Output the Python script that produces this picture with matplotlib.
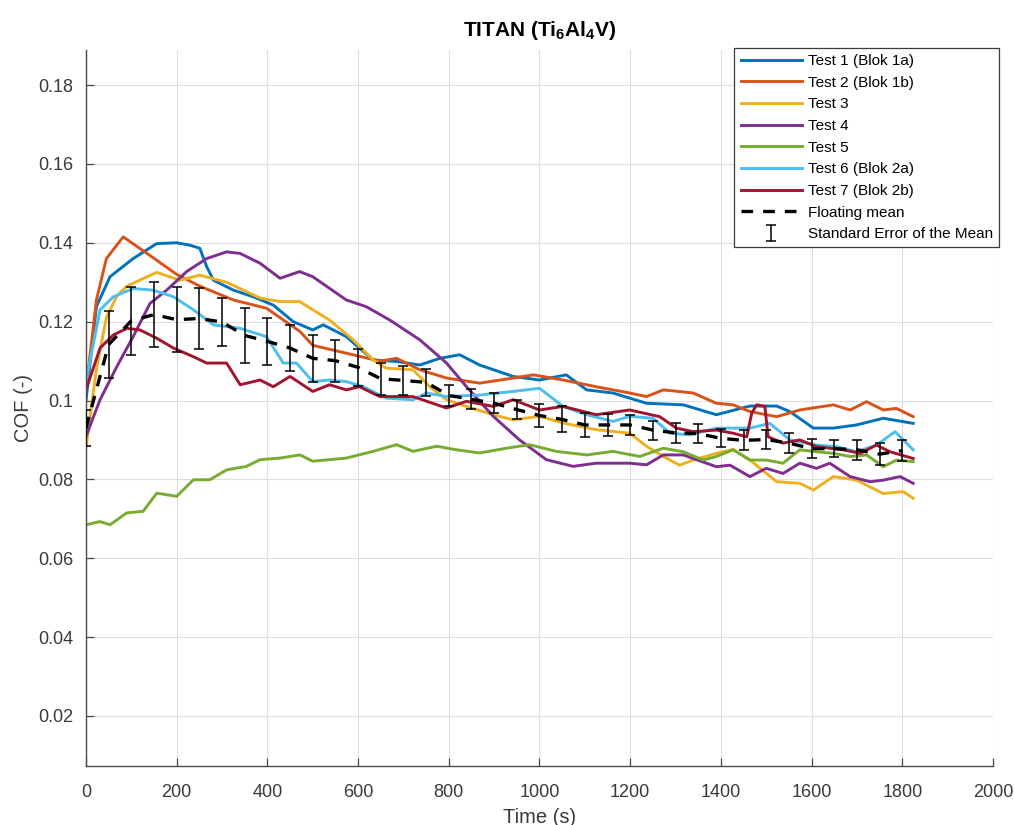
import matplotlib
matplotlib.use('Agg')
import matplotlib.pyplot as plt

plt.rcParams['font.family'] = ['Liberation Sans', 'DejaVu Sans']
plt.rcParams['mathtext.default'] = 'regular'

# COF traces per test (time in s, COF in -)
t1 = [0, 23, 53, 104, 156, 200, 229, 251, 266, 281, 325, 369, 413, 457, 500, 523, 574, 633, 685, 736,
      780, 824, 868, 942, 1000, 1059, 1104, 1162, 1236, 1317, 1390, 1464, 1523, 1552, 1604, 1648, 1699,
      1758, 1824]
cof1 = [0.100, 0.1238, 0.1314, 0.136, 0.1398, 0.140, 0.1394, 0.1386, 0.134, 0.1305, 0.128, 0.1263,
        0.1242, 0.120, 0.1179, 0.1192, 0.1162, 0.1103, 0.1099, 0.109, 0.1107, 0.1116, 0.109, 0.1061,
        0.1052, 0.1065, 0.1027, 0.1019, 0.0993, 0.0989, 0.0964, 0.0986, 0.0986, 0.0972, 0.093, 0.093,
        0.0938, 0.0955, 0.0942]

t2 = [0, 23, 45, 82, 126, 200, 251, 325, 398, 472, 500, 574, 648, 685, 736, 795, 868, 942, 986, 1052,
      1125, 1199, 1236, 1273, 1339, 1390, 1427, 1464, 1523, 1574, 1648, 1685, 1721, 1758, 1787, 1824]
cof2 = [0.1027, 0.1255, 0.136, 0.1415, 0.138, 0.132, 0.129, 0.1255, 0.1234, 0.1175, 0.114, 0.112,
        0.110, 0.1107, 0.1078, 0.1057, 0.1044, 0.1057, 0.1065, 0.1052, 0.1035, 0.1019, 0.101, 0.1027,
        0.1019, 0.0993, 0.0989, 0.0972, 0.0959, 0.0976, 0.0989, 0.0976, 0.0997, 0.0976, 0.098, 0.0959]

t3 = [0, 23, 45, 68, 90, 156, 207, 251, 310, 384, 427, 471, 537, 589, 633, 662, 721, 758, 795, 839,
      898, 942, 1000, 1052, 1125, 1199, 1236, 1273, 1309, 1339, 1390, 1427, 1464, 1523, 1574, 1604,
      1648, 1699, 1758, 1802, 1824]
cof3 = [0.088, 0.108, 0.121, 0.1265, 0.129, 0.1325, 0.1305, 0.1318, 0.130, 0.126, 0.1251, 0.1251,
        0.1204, 0.1154, 0.1103, 0.1082, 0.1078, 0.1035, 0.1002, 0.0985, 0.0964, 0.0951, 0.096, 0.0943,
        0.0926, 0.0917, 0.0884, 0.0858, 0.0836, 0.0849, 0.0866, 0.0876, 0.0849, 0.0794, 0.079, 0.0773,
        0.0807, 0.0798, 0.0764, 0.0769, 0.0752]

t4 = [0, 31, 68, 104, 141, 178, 222, 266, 310, 340, 384, 428, 471, 500, 574, 618, 670, 736, 795, 839,
      898, 956, 1015, 1074, 1125, 1199, 1236, 1273, 1317, 1390, 1420, 1464, 1500, 1537, 1574, 1611,
      1640, 1685, 1729, 1758, 1795, 1824]
cof4 = [0.0909, 0.1002, 0.1086, 0.1162, 0.1246, 0.128, 0.1327, 0.136, 0.1377, 0.1373, 0.1348, 0.131,
        0.1327, 0.1314, 0.1255, 0.1238, 0.1204, 0.1154, 0.1095, 0.1035, 0.096, 0.090, 0.085, 0.0833,
        0.0841, 0.0841, 0.0837, 0.0862, 0.0862, 0.0832, 0.0836, 0.0807, 0.0828, 0.0815, 0.0841, 0.0828,
        0.0841, 0.0807, 0.0794, 0.0798, 0.0807, 0.079]

t5 = [0, 31, 53, 90, 126, 156, 200, 237, 273, 310, 354, 384, 428, 472, 500, 574, 633, 685, 721, 773,
      817, 868, 927, 978, 1037, 1104, 1162, 1221, 1273, 1317, 1361, 1390, 1427, 1464, 1500, 1537, 1574,
      1611, 1648, 1685, 1721, 1758, 1787, 1824]
cof5 = [0.0685, 0.0693, 0.0685, 0.0715, 0.0719, 0.0765, 0.0757, 0.0799, 0.0799, 0.0824, 0.0833, 0.085,
        0.0854, 0.0862, 0.0846, 0.0854, 0.0871, 0.0888, 0.0871, 0.0884, 0.0875, 0.0867, 0.0879, 0.0888,
        0.0871, 0.0862, 0.0871, 0.0858, 0.0879, 0.087, 0.0849, 0.0858, 0.0875, 0.0849, 0.0849, 0.0841,
        0.0875, 0.087, 0.0866, 0.0858, 0.0862, 0.0832, 0.0849, 0.0845]

t6 = [0, 31, 60, 104, 148, 193, 237, 281, 340, 398, 435, 464, 500, 537, 574, 611, 662, 721, 751, 795,
      868, 942, 1000, 1052, 1104, 1162, 1199, 1250, 1288, 1332, 1390, 1464, 1508, 1552, 1611, 1655,
      1699, 1743, 1784, 1824]
cof6 = [0.1048, 0.123, 0.1263, 0.1284, 0.128, 0.1263, 0.123, 0.1192, 0.1183, 0.1162, 0.1095, 0.1095,
        0.1048, 0.1052, 0.1048, 0.1035, 0.1006, 0.1002, 0.1019, 0.101, 0.1014, 0.1023, 0.1031, 0.0985,
        0.0964, 0.0947, 0.096, 0.0955, 0.0917, 0.0913, 0.093, 0.093, 0.0942, 0.090, 0.0887, 0.0883,
        0.087, 0.0887, 0.0921, 0.0875]

t7 = [0, 31, 60, 90, 119, 156, 193, 237, 266, 310, 340, 384, 413, 450, 500, 537, 574, 603, 648, 721,
      795, 839, 898, 942, 1000, 1052, 1125, 1199, 1265, 1302, 1339, 1390, 1427, 1457, 1468, 1479, 1497,
      1504, 1537, 1574, 1611, 1670, 1707, 1743, 1773, 1824]
cof7 = [0.1027, 0.1133, 0.1166, 0.1183, 0.1179, 0.1158, 0.1133, 0.1111, 0.1095, 0.1095, 0.104, 0.1052,
        0.1035, 0.1061, 0.1023, 0.104, 0.1027, 0.1035, 0.101, 0.101, 0.0981, 0.0998, 0.0985, 0.1002,
        0.0976, 0.0985, 0.0964, 0.0976, 0.0959, 0.093, 0.0921, 0.0925, 0.0917, 0.0908, 0.0968, 0.0989,
        0.0985, 0.0908, 0.0892, 0.090, 0.0883, 0.0875, 0.0866, 0.0887, 0.087, 0.0853]

# floating mean and standard error, every 50 s
t_mean = [0, 50, 100, 150, 200, 250, 300, 350, 400, 450, 500, 550, 600, 650, 700, 750, 800, 850, 900,
          950, 1000, 1050, 1100, 1150, 1200, 1250, 1300, 1350, 1400, 1450, 1500, 1550, 1600, 1650, 1700,
          1750, 1800]
cof_mean = [0.093, 0.1142, 0.1202, 0.1218, 0.1205, 0.1208, 0.1199, 0.1165, 0.115, 0.1133, 0.1107,
            0.1101, 0.1084, 0.1055, 0.1051, 0.1046, 0.1013, 0.1003, 0.0993, 0.0977, 0.0962, 0.0952,
            0.0938, 0.0938, 0.0938, 0.0925, 0.0918, 0.0916, 0.0904, 0.0899, 0.0901, 0.0892, 0.0878,
            0.0878, 0.0875, 0.0864, 0.0873]
cof_sem = [0.0045, 0.0085, 0.0087, 0.0083, 0.0083, 0.0078, 0.006, 0.0069, 0.006, 0.0058, 0.0059,
           0.0053, 0.0046, 0.0041, 0.0037, 0.0034, 0.0027, 0.0025, 0.0025, 0.0025, 0.003, 0.0033, 0.003,
           0.0028, 0.0025, 0.0024, 0.0026, 0.0025, 0.0023, 0.0025, 0.0025, 0.0026, 0.0025, 0.0022,
           0.0025, 0.0028, 0.0027]

labels = ['Test 1 (Blok 1a)', 'Test 2 (Blok 1b)', 'Test 3', 'Test 4', 'Test 5',
          'Test 6 (Blok 2a)', 'Test 7 (Blok 2b)']
colors = ['#0072BD', '#D95319', '#EDB120', '#7E2F8E', '#77AC30', '#4DBEEE', '#A2142F']
series = [(t1, cof1), (t2, cof2), (t3, cof3), (t4, cof4), (t5, cof5), (t6, cof6), (t7, cof7)]

y_ticks = [0.02, 0.04, 0.06, 0.08, 0.1, 0.12, 0.14, 0.16, 0.18]
y_ticklabels = ['0.02', '0.04', '0.06', '0.08', '0.1', '0.12', '0.14', '0.16', '0.18']
x_ticks = list(range(0, 2001, 200))

fig = plt.figure(figsize=(10.14, 8.25), dpi=100, facecolor='white')
ax = fig.add_axes([0.0848, 0.0715, 0.8945, 0.8679])

for (t, c), lab, col in zip(series, labels, colors):
    ax.plot(t, c, color=col, lw=2.1, label=lab, zorder=2)

ax.plot(t_mean, cof_mean, color='black', lw=2.4, dashes=(3.5, 3.0), label='Floating mean', zorder=3)
ax.errorbar(t_mean, cof_mean, yerr=cof_sem, fmt='none', ecolor='black', elinewidth=1.1,
            capsize=3.3, capthick=1.1, label='Standard Error of the Mean', zorder=4)

ax.set_xlim(0, 2000)
ax.set_ylim(0.0073, 0.1889)
ax.set_xticks(x_ticks)
ax.set_yticks(y_ticks)
ax.set_yticklabels(y_ticklabels)

ax.grid(True, color='#dedede', lw=0.8)
ax.set_axisbelow(True)
ax.spines['top'].set_visible(False)
ax.spines['right'].set_visible(False)
for s in ('left', 'bottom'):
    ax.spines[s].set_color('#4a4a4a')
    ax.spines[s].set_linewidth(1.0)
ax.tick_params(direction='in', length=6, width=0.9, color='#4a4a4a',
               labelsize=13, labelcolor='#3a3a3a', pad=9)
ax.tick_params(axis='x', pad=13)

ax.set_xlabel('Time (s)', fontsize=14.5, color='#3a3a3a', labelpad=5)
ax.set_ylabel('COF (-)', fontsize=14.5, color='#3a3a3a', labelpad=4)
ax.set_title('TITAN (Ti$_6$Al$_4$V)', fontsize=15, fontweight='bold', pad=10)

leg = ax.legend(loc='upper right', bbox_to_anchor=(999 / 1014, 1 - 48 / 825),
                bbox_transform=fig.transFigure, fontsize=11, frameon=True, fancybox=False,
                framealpha=1, edgecolor='#3a3a3a', handlelength=4.0, handletextpad=0.4,
                labelspacing=0.5, borderpad=0.4, borderaxespad=0)
leg.get_frame().set_linewidth(0.9)

fig.savefig('out.png', dpi=100, facecolor='white')
plt.close(fig)
